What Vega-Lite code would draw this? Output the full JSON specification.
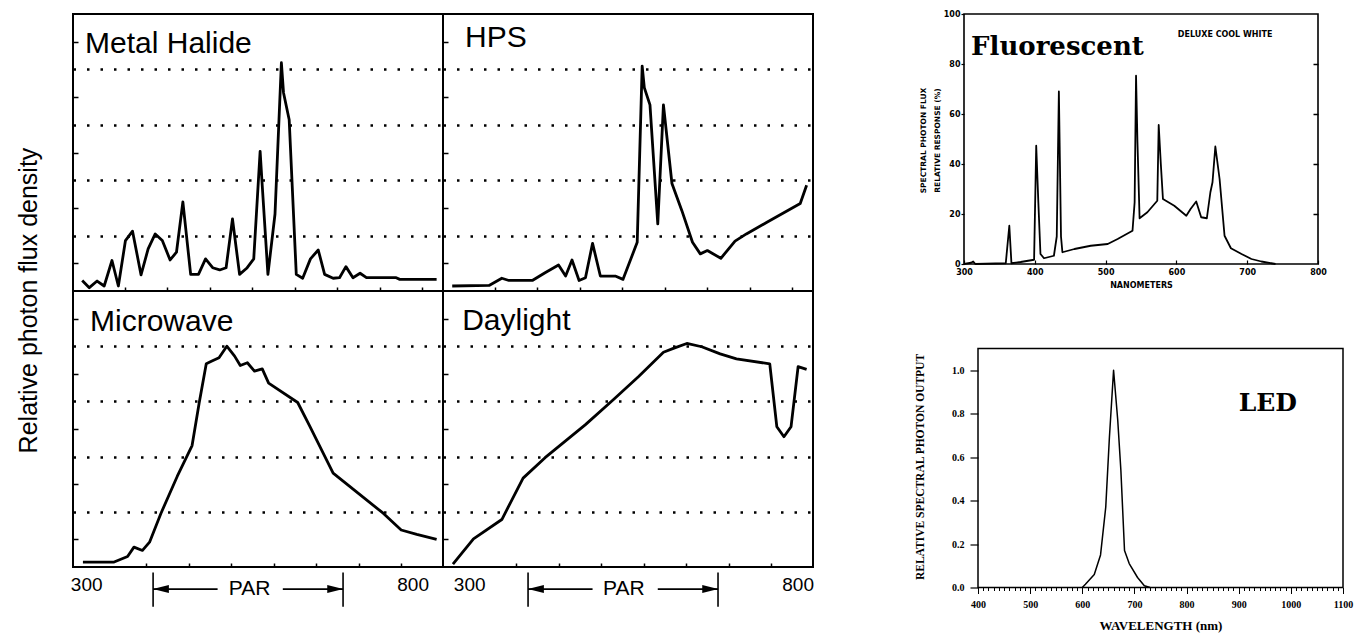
{
  "$schema": "https://vega.github.io/schema/vega-lite/v6.json",
  "padding": {"left": 15, "top": 9, "right": 5, "bottom": 5},
  "background": "white",
  "config": {
    "view": {"stroke": "black", "strokeWidth": 2},
    "axis": {"domain": false, "grid": false, "labelColor": "black", "tickColor": "black", "titleColor": "black", "labelOverlap": false, "labelFlush": false},
    "line": {"color": "black", "strokeJoin": "round"}
  },
  "hconcat": [
    {
      "vconcat": [
        {
          "hconcat": [
            {
              "width": 370, "height": 277,
              "resolve": {"axis": {"y": "independent"}},
              "layer": [
                {
                  "data": {"values": [
                    {"nm":300,"flux":0.19},{"nm":310,"flux":0.06},{"nm":321,"flux":0.18},{"nm":331,"flux":0.09},{"nm":342,"flux":0.55},{"nm":351,"flux":0.09},{"nm":361,"flux":0.91},{"nm":371,"flux":1.08},{"nm":383,"flux":0.29},{"nm":393,"flux":0.76},{"nm":403,"flux":1.03},{"nm":413,"flux":0.91},{"nm":424,"flux":0.56},{"nm":433,"flux":0.70},{"nm":442,"flux":1.61},{"nm":453,"flux":0.30},{"nm":464,"flux":0.30},{"nm":474,"flux":0.58},{"nm":484,"flux":0.42},{"nm":494,"flux":0.38},{"nm":503,"flux":0.42},{"nm":512,"flux":1.30},{"nm":522,"flux":0.30},{"nm":532,"flux":0.41},{"nm":542,"flux":0.58},{"nm":551,"flux":2.52},{"nm":554,"flux":1.9},{"nm":562,"flux":0.30},{"nm":572,"flux":1.39},{"nm":581,"flux":4.12},{"nm":584,"flux":3.58},{"nm":592,"flux":3.09},{"nm":602,"flux":0.30},{"nm":611,"flux":0.23},{"nm":622,"flux":0.58},{"nm":633,"flux":0.74},{"nm":642,"flux":0.30},{"nm":654,"flux":0.23},{"nm":663,"flux":0.24},{"nm":672,"flux":0.44},{"nm":682,"flux":0.24},{"nm":692,"flux":0.32},{"nm":701,"flux":0.24},{"nm":743,"flux":0.24},{"nm":748,"flux":0.21},{"nm":800,"flux":0.21}
                  ]},
                  "mark": {"type": "line", "strokeWidth": 2.8},
                  "encoding": {
                    "x": {"field": "nm", "type": "quantitative", "scale": {"domain": [287, 809], "nice": false, "zero": false},
                      "axis": {"values": [360,390,420,450,480,510,540,570,600,630,660,690,720,750,780], "labels": false, "title": null, "tickSize": -4, "tickWidth": 1.5}},
                    "y": {"field": "flux", "type": "quantitative", "scale": {"domain": [0, 5], "nice": false},
                      "axis": {"orient": "left", "values": [1,2,3,4], "labels": false, "ticks": false, "grid": true, "gridColor": "black", "gridDash": [2.5, 11], "gridWidth": 2.5,
                        "title": "Relative photon flux density", "titleFont": "Liberation Sans", "titleFontSize": 25, "titleFontWeight": "normal", "titleX": -32, "titleY": 286}}
                  }
                },
                {
                  "data": {"values": [{"label": "Metal Halide"}]},
                  "mark": {"type": "text", "align": "left", "baseline": "alphabetic", "font": "Liberation Sans", "fontSize": 30, "color": "black"},
                  "encoding": {"x": {"datum": 304},
                    "y": {"datum": 4.3, "axis": {"orient": "left", "values": [0.5,1.5,2.5,3.5,4.5], "labels": false, "title": null, "grid": false, "tickSize": -5, "tickWidth": 1.5}},
                    "text": {"field": "label"}}
                }
              ]
            },
            {
              "width": 370, "height": 277,
              "resolve": {"axis": {"y": "independent"}},
              "layer": [
                {
                  "data": {"values": [
                    {"nm":300,"flux":0.09},{"nm":352,"flux":0.10},{"nm":370,"flux":0.23},{"nm":380,"flux":0.19},{"nm":413,"flux":0.19},{"nm":431,"flux":0.33},{"nm":450,"flux":0.47},{"nm":460,"flux":0.27},{"nm":469,"flux":0.56},{"nm":479,"flux":0.19},{"nm":488,"flux":0.24},{"nm":498,"flux":0.86},{"nm":509,"flux":0.27},{"nm":530,"flux":0.27},{"nm":541,"flux":0.21},{"nm":561,"flux":0.88},{"nm":568,"flux":4.06},{"nm":571,"flux":3.67},{"nm":579,"flux":3.36},{"nm":590,"flux":1.21},{"nm":598,"flux":3.36},{"nm":610,"flux":1.94},{"nm":624,"flux":1.45},{"nm":639,"flux":0.88},{"nm":650,"flux":0.67},{"nm":660,"flux":0.73},{"nm":679,"flux":0.59},{"nm":699,"flux":0.90},{"nm":715,"flux":1.03},{"nm":744,"flux":1.24},{"nm":791,"flux":1.58},{"nm":800,"flux":1.91}
                  ]},
                  "mark": {"type": "line", "strokeWidth": 2.8},
                  "encoding": {
                    "x": {"field": "nm", "type": "quantitative", "scale": {"domain": [287, 809], "nice": false, "zero": false},
                      "axis": {"values": [360,390,420,450,480,510,540,570,600,630,660,690,720,750,780], "labels": false, "title": null, "tickSize": -4, "tickWidth": 1.5}},
                    "y": {"field": "flux", "type": "quantitative", "scale": {"domain": [0, 5], "nice": false},
                      "axis": {"orient": "left", "values": [1,2,3,4], "labels": false, "ticks": false, "title": null, "grid": true, "gridColor": "black", "gridDash": [2.5, 11], "gridWidth": 2.5}}
                  }
                },
                {
                  "data": {"values": [{"label": "HPS"}]},
                  "mark": {"type": "text", "align": "left", "baseline": "alphabetic", "font": "Liberation Sans", "fontSize": 30, "color": "black"},
                  "encoding": {"x": {"datum": 318},
                    "y": {"datum": 4.4, "axis": {"orient": "left", "values": [0.5,1.5,2.5,3.5,4.5], "labels": false, "title": null, "grid": false, "tickSize": -5, "tickWidth": 1.5}},
                    "text": {"field": "label"}}
                }
              ]
            }
          ],
          "spacing": 0, "bounds": "flush"
        },
        {
          "hconcat": [
            {
              "width": 370, "height": 276,
              "resolve": {"axis": {"y": "independent"}},
              "layer": [
                {
                  "data": {"values": [
                    {"nm":301,"flux":0.09},{"nm":345,"flux":0.09},{"nm":364,"flux":0.19},{"nm":373,"flux":0.36},{"nm":385,"flux":0.30},{"nm":395,"flux":0.45},{"nm":411,"flux":0.97},{"nm":434,"flux":1.64},{"nm":455,"flux":2.20},{"nm":465,"flux":2.97},{"nm":475,"flux":3.68},{"nm":483,"flux":3.73},{"nm":493,"flux":3.79},{"nm":504,"flux":4.00},{"nm":515,"flux":3.82},{"nm":523,"flux":3.65},{"nm":533,"flux":3.70},{"nm":543,"flux":3.55},{"nm":554,"flux":3.59},{"nm":563,"flux":3.33},{"nm":604,"flux":2.98},{"nm":621,"flux":2.55},{"nm":654,"flux":1.70},{"nm":687,"flux":1.36},{"nm":725,"flux":0.97},{"nm":750,"flux":0.67},{"nm":772,"flux":0.59},{"nm":800,"flux":0.50}
                  ]},
                  "mark": {"type": "line", "strokeWidth": 2.8},
                  "encoding": {
                    "x": {"field": "nm", "type": "quantitative", "scale": {"domain": [287, 809], "nice": false, "zero": false},
                      "axis": {"values": [300,360,390,420,450,480,510,540,570,600,630,660,690,720,750,780,800], "title": null, "tickSize": -4, "tickWidth": 1.5,
                        "tickOpacity": {"condition": {"test": "datum.value == 300 || datum.value == 800", "value": 0}, "value": 1},
                        "labelExpr": "datum.value == 300 || datum.value == 800 ? datum.label : ''",
                        "labelFont": "Liberation Sans", "labelFontSize": 19, "labelPadding": 12,
                        "labelOffset": {"condition": {"test": "datum.value == 300", "value": 4}, "value": -24}}},
                    "y": {"field": "flux", "type": "quantitative", "scale": {"domain": [0, 5], "nice": false},
                      "axis": {"orient": "left", "values": [1,2,3,4], "labels": false, "ticks": false, "title": null, "grid": true, "gridColor": "black", "gridDash": [2.5, 11], "gridWidth": 2.5}}
                  }
                },
                {
                  "data": {"values": [{"label": "Microwave"}]},
                  "mark": {"type": "text", "align": "left", "baseline": "alphabetic", "font": "Liberation Sans", "fontSize": 30, "color": "black"},
                  "encoding": {"x": {"datum": 311},
                    "y": {"datum": 4.28, "axis": {"orient": "left", "values": [0.5,1.5,2.5,3.5,4.5], "labels": false, "title": null, "grid": false, "tickSize": -5, "tickWidth": 1.5}},
                    "text": {"field": "label"}}
                },
                {
                  "data": {"values": [{"nm": 400}, {"nm": 668}]},
                  "mark": {"type": "rule", "color": "black", "strokeWidth": 1.6},
                  "encoding": {"x": {"field": "nm", "type": "quantitative"}, "y": {"datum": -0.1, "axis": null}, "y2": {"datum": -0.72}}
                },
                {
                  "data": {"values": [{"a": 400, "b": 491}, {"a": 583, "b": 668}]},
                  "mark": {"type": "rule", "color": "black", "strokeWidth": 1.6},
                  "encoding": {"x": {"field": "a", "type": "quantitative"}, "x2": {"field": "b"}, "y": {"datum": -0.4, "axis": null}}
                },
                {
                  "data": {"values": [{"nm": 411}]},
                  "mark": {"type": "point", "filled": true, "color": "black", "opacity": 1, "size": 256, "shape": "M -1 0 L 1 -0.5 L 1 0.5 Z"},
                  "encoding": {"x": {"field": "nm", "type": "quantitative"}, "y": {"datum": -0.4, "axis": null}}
                },
                {
                  "data": {"values": [{"nm": 657}]},
                  "mark": {"type": "point", "filled": true, "color": "black", "opacity": 1, "size": 256, "shape": "M 1 0 L -1 -0.5 L -1 0.5 Z"},
                  "encoding": {"x": {"field": "nm", "type": "quantitative"}, "y": {"datum": -0.4, "axis": null}}
                },
                {
                  "data": {"values": [{"label": "PAR", "nm": 536}]},
                  "mark": {"type": "text", "font": "Liberation Sans", "fontSize": 21, "baseline": "middle", "color": "black"},
                  "encoding": {"x": {"field": "nm", "type": "quantitative"}, "y": {"datum": -0.4, "axis": null}, "text": {"field": "label"}}
                }
              ]
            },
            {
              "width": 370, "height": 276,
              "resolve": {"axis": {"y": "independent"}},
              "layer": [
                {
                  "data": {"values": [
                    {"nm":301,"flux":0.05},{"nm":330,"flux":0.51},{"nm":370,"flux":0.86},{"nm":400,"flux":1.61},{"nm":431,"flux":1.98},{"nm":488,"flux":2.58},{"nm":528,"flux":3.04},{"nm":563,"flux":3.45},{"nm":598,"flux":3.89},{"nm":612,"flux":3.96},{"nm":631,"flux":4.05},{"nm":652,"flux":3.99},{"nm":678,"flux":3.86},{"nm":701,"flux":3.77},{"nm":748,"flux":3.68},{"nm":758,"flux":2.54},{"nm":768,"flux":2.36},{"nm":778,"flux":2.54},{"nm":788,"flux":3.63},{"nm":800,"flux":3.58}
                  ]},
                  "mark": {"type": "line", "strokeWidth": 2.8},
                  "encoding": {
                    "x": {"field": "nm", "type": "quantitative", "scale": {"domain": [287, 809], "nice": false, "zero": false},
                      "axis": {"values": [300,360,390,420,450,480,510,540,570,600,630,660,690,720,750,780,800], "title": null, "tickSize": -4, "tickWidth": 1.5,
                        "tickOpacity": {"condition": {"test": "datum.value == 300 || datum.value == 800", "value": 0}, "value": 1},
                        "labelExpr": "datum.value == 300 || datum.value == 800 ? datum.label : ''",
                        "labelFont": "Liberation Sans", "labelFontSize": 19, "labelPadding": 12,
                        "labelOffset": {"condition": {"test": "datum.value == 300", "value": 17}, "value": -9}}},
                    "y": {"field": "flux", "type": "quantitative", "scale": {"domain": [0, 5], "nice": false},
                      "axis": {"orient": "left", "values": [1,2,3,4], "labels": false, "ticks": false, "title": null, "grid": true, "gridColor": "black", "gridDash": [2.5, 11], "gridWidth": 2.5}}
                  }
                },
                {
                  "data": {"values": [{"label": "Daylight"}]},
                  "mark": {"type": "text", "align": "left", "baseline": "alphabetic", "font": "Liberation Sans", "fontSize": 30, "color": "black"},
                  "encoding": {"x": {"datum": 314},
                    "y": {"datum": 4.29, "axis": {"orient": "left", "values": [0.5,1.5,2.5,3.5,4.5], "labels": false, "title": null, "grid": false, "tickSize": -5, "tickWidth": 1.5}},
                    "text": {"field": "label"}}
                },
                {
                  "data": {"values": [{"nm": 407}, {"nm": 675}]},
                  "mark": {"type": "rule", "color": "black", "strokeWidth": 1.6},
                  "encoding": {"x": {"field": "nm", "type": "quantitative"}, "y": {"datum": -0.1, "axis": null}, "y2": {"datum": -0.72}}
                },
                {
                  "data": {"values": [{"a": 407, "b": 498}, {"a": 590, "b": 675}]},
                  "mark": {"type": "rule", "color": "black", "strokeWidth": 1.6},
                  "encoding": {"x": {"field": "a", "type": "quantitative"}, "x2": {"field": "b"}, "y": {"datum": -0.4, "axis": null}}
                },
                {
                  "data": {"values": [{"nm": 418}]},
                  "mark": {"type": "point", "filled": true, "color": "black", "opacity": 1, "size": 256, "shape": "M -1 0 L 1 -0.5 L 1 0.5 Z"},
                  "encoding": {"x": {"field": "nm", "type": "quantitative"}, "y": {"datum": -0.4, "axis": null}}
                },
                {
                  "data": {"values": [{"nm": 664}]},
                  "mark": {"type": "point", "filled": true, "color": "black", "opacity": 1, "size": 256, "shape": "M 1 0 L -1 -0.5 L -1 0.5 Z"},
                  "encoding": {"x": {"field": "nm", "type": "quantitative"}, "y": {"datum": -0.4, "axis": null}}
                },
                {
                  "data": {"values": [{"label": "PAR", "nm": 542}]},
                  "mark": {"type": "text", "font": "Liberation Sans", "fontSize": 21, "baseline": "middle", "color": "black"},
                  "encoding": {"x": {"field": "nm", "type": "quantitative"}, "y": {"datum": -0.4, "axis": null}, "text": {"field": "label"}}
                }
              ]
            }
          ],
          "spacing": 0, "bounds": "flush"
        }
      ],
      "spacing": 277, "bounds": "flush"
    },
    {
      "vconcat": [
        {
          "width": 354, "height": 250,
          "view": {"stroke": "black", "strokeWidth": 1.6},
          "resolve": {"axis": {"y": "independent"}},
          "layer": [
            {
              "data": {"values": [
                {"nm":300,"pct":0},{"nm":310,"pct":0.5},{"nm":313,"pct":1},{"nm":316,"pct":0},{"nm":359,"pct":0.3},{"nm":364,"pct":15.3},{"nm":367,"pct":0.3},{"nm":380,"pct":0.8},{"nm":399,"pct":1.7},{"nm":402,"pct":47.3},{"nm":405,"pct":24.7},{"nm":408,"pct":4},{"nm":413,"pct":2.3},{"nm":427,"pct":3.3},{"nm":431,"pct":11},{"nm":434,"pct":69},{"nm":437,"pct":11},{"nm":439,"pct":4.7},{"nm":456,"pct":6},{"nm":479,"pct":7.3},{"nm":503,"pct":8},{"nm":517,"pct":10},{"nm":538,"pct":13.3},{"nm":541,"pct":24.7},{"nm":543,"pct":75.3},{"nm":545,"pct":48.7},{"nm":548,"pct":18.3},{"nm":559,"pct":20.7},{"nm":573,"pct":25.3},{"nm":575,"pct":55.6},{"nm":578,"pct":40},{"nm":581,"pct":26},{"nm":597,"pct":23.3},{"nm":614,"pct":19.3},{"nm":620,"pct":22},{"nm":628,"pct":25},{"nm":635,"pct":18.7},{"nm":643,"pct":18.3},{"nm":648,"pct":28.7},{"nm":651,"pct":32.7},{"nm":655,"pct":47},{"nm":661,"pct":34},{"nm":668,"pct":11.3},{"nm":677,"pct":6.3},{"nm":692,"pct":4},{"nm":706,"pct":2},{"nm":720,"pct":1},{"nm":740,"pct":0}
              ]},
              "mark": {"type": "line", "strokeWidth": 1.8},
              "encoding": {
                "x": {"field": "nm", "type": "quantitative", "scale": {"domain": [300, 800], "nice": false, "zero": false},
                  "axis": {"values": [300,350,400,450,500,550,600,650,700,750,800], "format": "d", "labelExpr": "datum.value % 100 == 0 ? datum.label : ''",
                    "tickSize": -4, "tickWidth": 1.2, "labelPadding": 8, "labelFont": "DejaVu Sans", "labelFontWeight": "bold", "labelFontSize": 8,
                    "title": "NANOMETERS", "titleFont": "DejaVu Sans", "titleFontWeight": "bold", "titleFontSize": 8, "titlePadding": 5}},
                "y": {"field": "pct", "type": "quantitative", "scale": {"domain": [0, 100], "nice": false},
                  "axis": {"orient": "left", "values": [0,20,40,60,80,100], "format": "d", "tickSize": 3, "tickWidth": 1.2, "labelPadding": 1,
                    "labelFont": "DejaVu Sans", "labelFontWeight": "bold", "labelFontSize": 8,
                    "title": ["SPECTRAL PHOTON FLUX", "RELATIVE RESPONSE (%)"], "titleFont": "DejaVu Sans", "titleFontWeight": "bold", "titleFontSize": 7.5,
                    "titleLineHeight": 14, "titleX": -37, "titleY": 126}}
              }
            },
            {
              "data": {"values": [{"label": "Fluorescent"}]},
              "mark": {"type": "text", "align": "left", "baseline": "alphabetic", "font": "DejaVu Serif", "fontWeight": "bold", "fontSize": 26, "color": "black"},
              "encoding": {"x": {"datum": 310},
                "y": {"datum": 83.6, "axis": {"orient": "right", "values": [20,40,60,80], "labels": false, "title": null, "grid": false, "tickSize": -5, "tickWidth": 1.5}},
                "text": {"field": "label"}}
            },
            {
              "data": {"values": [{"label": "DELUXE COOL WHITE"}]},
              "mark": {"type": "text", "align": "left", "baseline": "alphabetic", "font": "DejaVu Sans", "fontWeight": "bold", "fontSize": 8, "color": "black"},
              "encoding": {"x": {"datum": 602}, "y": {"datum": 90.8, "axis": null}, "text": {"field": "label"}}
            }
          ]
        },
        {
          "hconcat": [
            {
              "width": 1, "height": 1,
              "view": {"stroke": null},
              "data": {"values": [{"s": 0}]},
              "mark": {"type": "point", "opacity": 0}
            },
            {
              "width": 365, "height": 239,
              "view": {"stroke": "black", "strokeWidth": 1.5},
              "layer": [
                {
                  "data": {"values": [
                    {"nm":600,"out":0},{"nm":606,"out":0.015},{"nm":623,"out":0.06},{"nm":635,"out":0.15},{"nm":645,"out":0.37},{"nm":652,"out":0.69},{"nm":660,"out":1.0},{"nm":668,"out":0.77},{"nm":674,"out":0.54},{"nm":681,"out":0.17},{"nm":690,"out":0.11},{"nm":706,"out":0.046},{"nm":719,"out":0.008},{"nm":730,"out":0}
                  ]},
                  "mark": {"type": "line", "strokeWidth": 1.5},
                  "encoding": {
                    "x": {"field": "nm", "type": "quantitative", "scale": {"domain": [400, 1100], "nice": false, "zero": false},
                      "axis": {"tickCount": 70, "format": "d", "labelExpr": "datum.value % 100 == 0 ? datum.label : ''",
                        "tickSize": {"condition": {"test": "datum.value % 100 == 0", "value": 6}, "value": 3}, "tickWidth": 1,
                        "labelPadding": 6, "labelFont": "Liberation Serif", "labelFontWeight": "bold", "labelFontSize": 10,
                        "title": "WAVELENGTH (nm)", "titleFont": "Liberation Serif", "titleFontWeight": "bold", "titleFontSize": 13, "titlePadding": 10}},
                    "y": {"field": "out", "type": "quantitative", "scale": {"domain": [0, 1.1], "nice": false},
                      "axis": {"values": [0,0.1,0.2,0.3,0.4,0.5,0.6,0.7,0.8,0.9,1.0],
                        "labelExpr": "round(datum.value*10) % 2 == 0 ? format(datum.value, '.1f') : ''",
                        "tickSize": {"condition": {"test": "round(datum.value*10) % 2 == 0", "value": 8}, "value": 4}, "tickWidth": 1.2,
                        "labelPadding": 6, "labelFont": "Liberation Serif", "labelFontWeight": "bold", "labelFontSize": 10,
                        "title": "RELATIVE SPECTRAL PHOTON OUTPUT", "titleFont": "Liberation Serif", "titleFontWeight": "bold", "titleFontSize": 11.5,
                        "titleX": -53, "titleY": 118}}
                  }
                },
                {
                  "data": {"values": [{"label": "LED"}]},
                  "mark": {"type": "text", "align": "left", "baseline": "alphabetic", "font": "DejaVu Serif", "fontWeight": "bold", "fontSize": 25, "color": "black"},
                  "encoding": {"x": {"datum": 900}, "y": {"datum": 0.814}, "text": {"field": "label"}}
                }
              ]
            }
          ],
          "spacing": 13, "bounds": "flush"
        }
      ],
      "spacing": 84.5, "bounds": "flush"
    }
  ],
  "spacing": 891,
  "bounds": "flush"
}
